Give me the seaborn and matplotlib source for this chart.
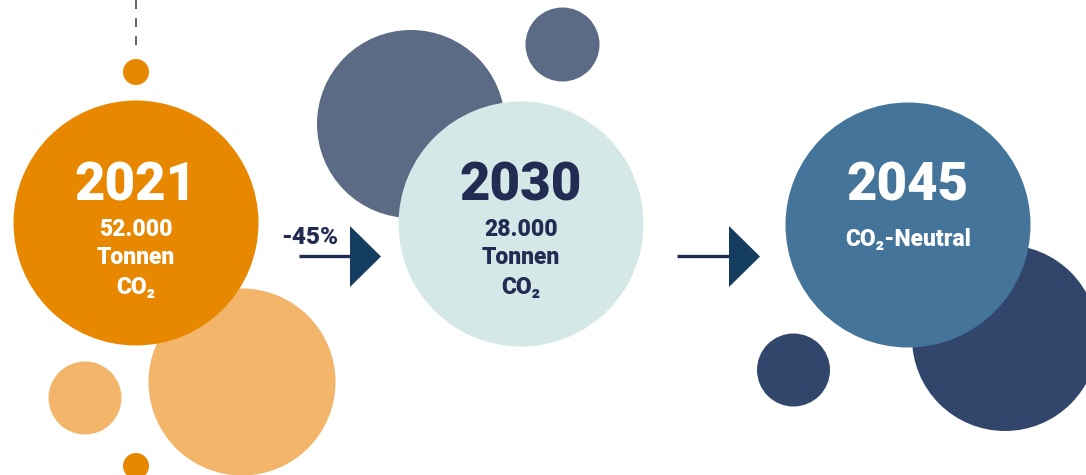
import matplotlib
matplotlib.use("Agg")
import matplotlib.pyplot as plt
from matplotlib.patches import Circle, Polygon
import seaborn as sns

# ---- data ----
years = ["2021", "2030", "2045"]
emission_values = ["52.000", "28.000", None]
unit_lines = ["Tonnen", "CO₂"]
final_label = "CO₂-Neutral"
reduction_label = "-45%"

# ---- layout (pixel coordinates, y down) ----
W, H = 1086, 475
main_cx = [136, 521, 908]
main_cy = [223, 224, 225]
main_r = 122.5
main_colors = ["#E88700", "#D5E8E8", "#44749A"]
year_colors = ["white", "#222B52", "white"]

# decorative circles: (cx, cy, r, color)
deco = [
    (242, 382, 93.5, "#F2B569"),
    (85, 398, 36.5, "#F2B569"),
    (136, 72, 13, "#E88700"),
    (136, 466, 13, "#E88700"),
    (411, 124, 94, "#5B6A85"),
    (562.5, 44.5, 37, "#5B6A85"),
    (1005, 338, 93, "#32466C"),
    (793.5, 370, 36.5, "#32466C"),
]

sns.set_theme(style="white")
plt.rcParams["font.family"] = ["Roboto", "DejaVu Sans"]

fig = plt.figure(figsize=(W / 100, H / 100), dpi=100)
ax = fig.add_axes([0, 0, 1, 1])
ax.set_xlim(0, W)
ax.set_ylim(H, 0)
ax.set_aspect("equal")
ax.axis("off")

# dashed connector
ax.plot([136, 136], [0, 53], color="#555555", lw=1.3, ls=(0, (5, 5)), zorder=0)

for cx, cy, r, c in deco:
    ax.add_patch(Circle((cx, cy), r, color=c, lw=0, zorder=1))

for i, y in enumerate(years):
    ax.add_patch(Circle((main_cx[i], main_cy[i]), main_r, color=main_colors[i], lw=0, zorder=2))
    ax.text(main_cx[i], 186, y, ha="center", va="center", fontsize=38,
            fontweight=900, color=year_colors[i], zorder=3)
    if emission_values[i] is not None:
        lines = [emission_values[i]] + unit_lines
        for j, t in enumerate(lines):
            ax.text(main_cx[i], 229 + 29 * j, t, ha="center", va="center",
                    fontsize=16.5, fontweight=900, color=year_colors[i], zorder=3)
    else:
        ax.text(main_cx[i], 239, final_label, ha="center", va="center",
                fontsize=16.5, fontweight=900, color=year_colors[i], zorder=3)

# arrows
for x0, x1 in [(299, 350), (677, 729)]:
    ax.plot([x0, x1], [256, 256], color="#1E2B52", lw=2.4, solid_capstyle="butt", zorder=2)
    ax.add_patch(Polygon([[x1, 226], [x1 + 31, 256.5], [x1, 287]], closed=True,
                         color="#143D60", lw=0, zorder=3))

ax.text(310, 238, reduction_label, ha="center", va="center", fontsize=17.5,
        fontweight=900, color="#222B52", zorder=3)

fig.savefig("out.png", dpi=100, facecolor="white")
